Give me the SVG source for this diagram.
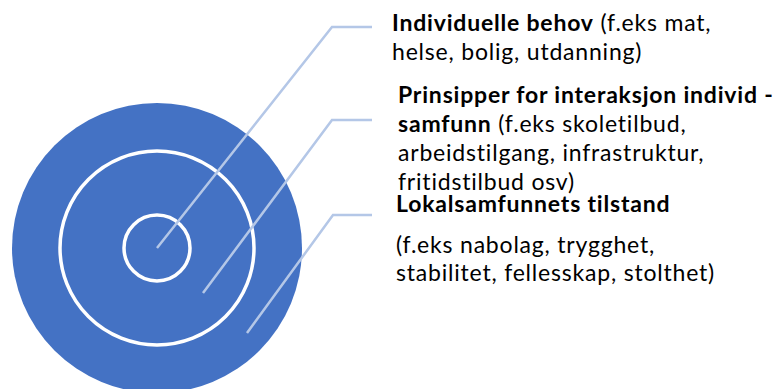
<svg xmlns="http://www.w3.org/2000/svg" width="778" height="389" viewBox="0 0 778 389">
<style>
.ring{fill:none;stroke:#FFFFFF;stroke-width:3.5}
.lead{fill:none;stroke:#B4C7E7;stroke-width:2.5}
.t{font-family:Lato,"Liberation Sans",sans-serif;font-size:23px;letter-spacing:0.8px;font-variant-ligatures:none;fill:#000000}
.b{font-weight:bold}
</style>
<rect width="778" height="389" fill="#FFFFFF"/>
<g id="target">
<circle cx="157" cy="248" r="145" fill="#4472C4"/>
<circle class="ring" cx="157" cy="248" r="97"/>
<circle class="ring" cx="157" cy="248" r="33"/>
</g>
<g id="connectors">
<polyline class="lead" points="157,248 332,27 372,27"/>
<polyline class="lead" points="203,293 332,120 372,120"/>
<polyline class="lead" points="247,333 333,215 372,215"/>
</g>
<g id="label-individuelle">
<text class="t" x="392" y="31"><tspan class="b">Individuelle behov</tspan> (f.eks mat,</text>
<text class="t" x="392" y="60">helse, bolig, utdanning)</text>
</g>
<g id="label-prinsipper">
<text class="t" x="398" y="103"><tspan class="b">Prinsipper for interaksjon individ -</tspan></text>
<text class="t" x="398" y="132"><tspan class="b">samfunn</tspan> (f.eks skoletilbud,</text>
<text class="t" x="398" y="161">arbeidstilgang, infrastruktur,</text>
<text class="t" x="398" y="190">fritidstilbud osv)</text>
</g>
<g id="label-lokalsamfunn">
<text class="t b" x="396" y="212">Lokalsamfunnets tilstand</text>
<text class="t" x="396" y="253">(f.eks nabolag, trygghet,</text>
<text class="t" x="396" y="281">stabilitet, fellesskap, stolthet)</text>
</g>
</svg>
